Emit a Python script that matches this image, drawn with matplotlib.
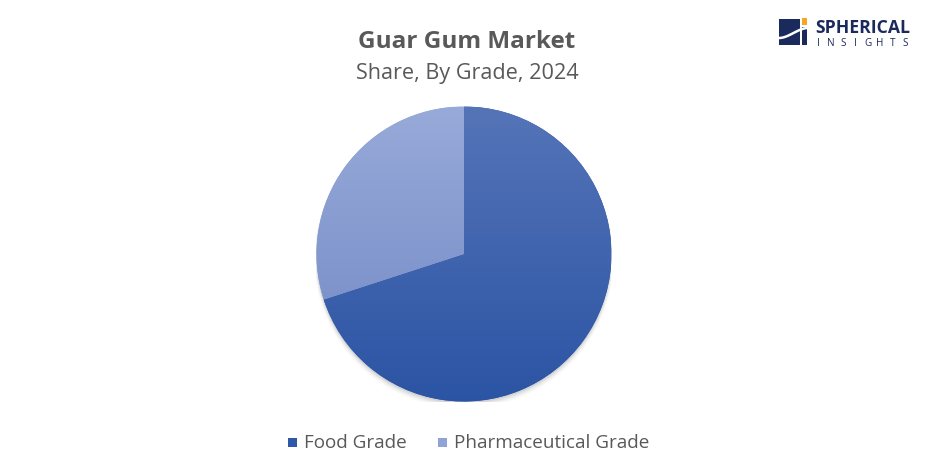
import numpy as np
import matplotlib
matplotlib.use("Agg")
import matplotlib.pyplot as plt
from matplotlib.colors import LinearSegmentedColormap
from matplotlib.patches import Rectangle

categories = ["Food Grade", "Pharmaceutical Grade"]
shares = [70, 30]
title = "Guar Gum Market"
subtitle = "Share, By Grade, 2024"

top_colors = ["#5574b8", "#98aad9"]
bottom_colors = ["#2b54a4", "#7d93cb"]
legend_colors = ["#2f58a8", "#8fa3d6"]

W, H = 928, 477
fig = plt.figure(figsize=(W / 100, H / 100), dpi=100)
fig.patch.set_facecolor("white")

cx, cy, r = 464, 255, 147.5
ax = fig.add_axes([(cx - r) / W, (H - cy - r) / H, 2 * r / W, 2 * r / H])
ax.set_xlim(-1, 1)
ax.set_ylim(-1, 1)
ax.set_aspect("equal")
ax.axis("off")

# soft shadow
for i, a in enumerate(np.linspace(0.06, 0.01, 5)):
    sh = plt.Circle((0.0, -0.012 - i * 0.006), 1.0 + i * 0.004, color="black", alpha=a, lw=0, zorder=0)
    ax.add_patch(sh)

wedges, _ = ax.pie(shares, startangle=90, counterclock=False, radius=1.0,
                   colors=legend_colors, wedgeprops=dict(linewidth=0))
for w, tc, bc in zip(wedges, top_colors, bottom_colors):
    w.set_zorder(1)
    verts = w.get_path().vertices
    ymin, ymax = verts[:, 1].min(), verts[:, 1].max()
    cmap = LinearSegmentedColormap.from_list("g", [bc, tc])
    grad = np.linspace(0, 1, 256).reshape(-1, 1)
    im = ax.imshow(grad, cmap=cmap, origin="lower", extent=[-1, 1, ymin, ymax],
                   aspect="auto", zorder=2, interpolation="bilinear")
    im.set_clip_path(w)
ax.set_xlim(-1, 1)
ax.set_ylim(-1, 1)

fig.text(467 / W, 1 - 42 / H, title, ha="center", va="center", fontsize=17.5,
         fontweight="bold", color="#595959", family="Open Sans")
fig.text(467 / W, 1 - 73 / H, subtitle, ha="center", va="center", fontsize=15.6,
         color="#595959", family="Open Sans")

# legend
lx = [288, 438]
for x, c, lab in zip(lx, legend_colors, categories):
    fig.patches.append(Rectangle((x / W, 1 - 448 / H), 9 / W, 9 / H, transform=fig.transFigure,
                                 facecolor=c, edgecolor="none"))
    fig.text((x + 16) / W, 1 - 443 / H, lab, ha="left", va="center", fontsize=13.6,
             color="#595959", family="Open Sans")

# logo
navy = "#1b2a5c"
fig.patches.append(Rectangle((779 / W, 1 - 46 / H), 21 / W, 26 / H, transform=fig.transFigure,
                             facecolor=navy, edgecolor="none"))
fig.patches.append(Rectangle((802 / W, 1 - 46 / H), 5.5 / W, 18 / H, transform=fig.transFigure,
                             facecolor=navy, edgecolor="none"))
fig.patches.append(Rectangle((802 / W, 1 - 26 / H), 5.5 / W, 7 / H, transform=fig.transFigure,
                             facecolor="#f5a623", edgecolor="none"))
t = np.linspace(0, 1, 30)
xs = 779 + 29 * t
ys = 39 - 10 * (3 * t ** 2 - 2 * t ** 3)
fig.lines.append(plt.Line2D(xs / W, 1 - ys / H, transform=fig.transFigure, color="white", lw=1.8))
fig.text(815 / W, 1 - 28 / H, "SPHERICAL", ha="left", va="center", fontsize=12.7,
         fontweight="bold", color=navy, family="Open Sans")
letters = "INSIGHTS"
for i, ch in enumerate(letters):
    x = 818 + i * (905 - 818) / (len(letters) - 1)
    fig.text(x / W, 1 - 43 / H, ch, ha="center", va="center", fontsize=7.2,
             color=navy, family="Open Sans")

fig.savefig("out.png", dpi=100, facecolor="white")
